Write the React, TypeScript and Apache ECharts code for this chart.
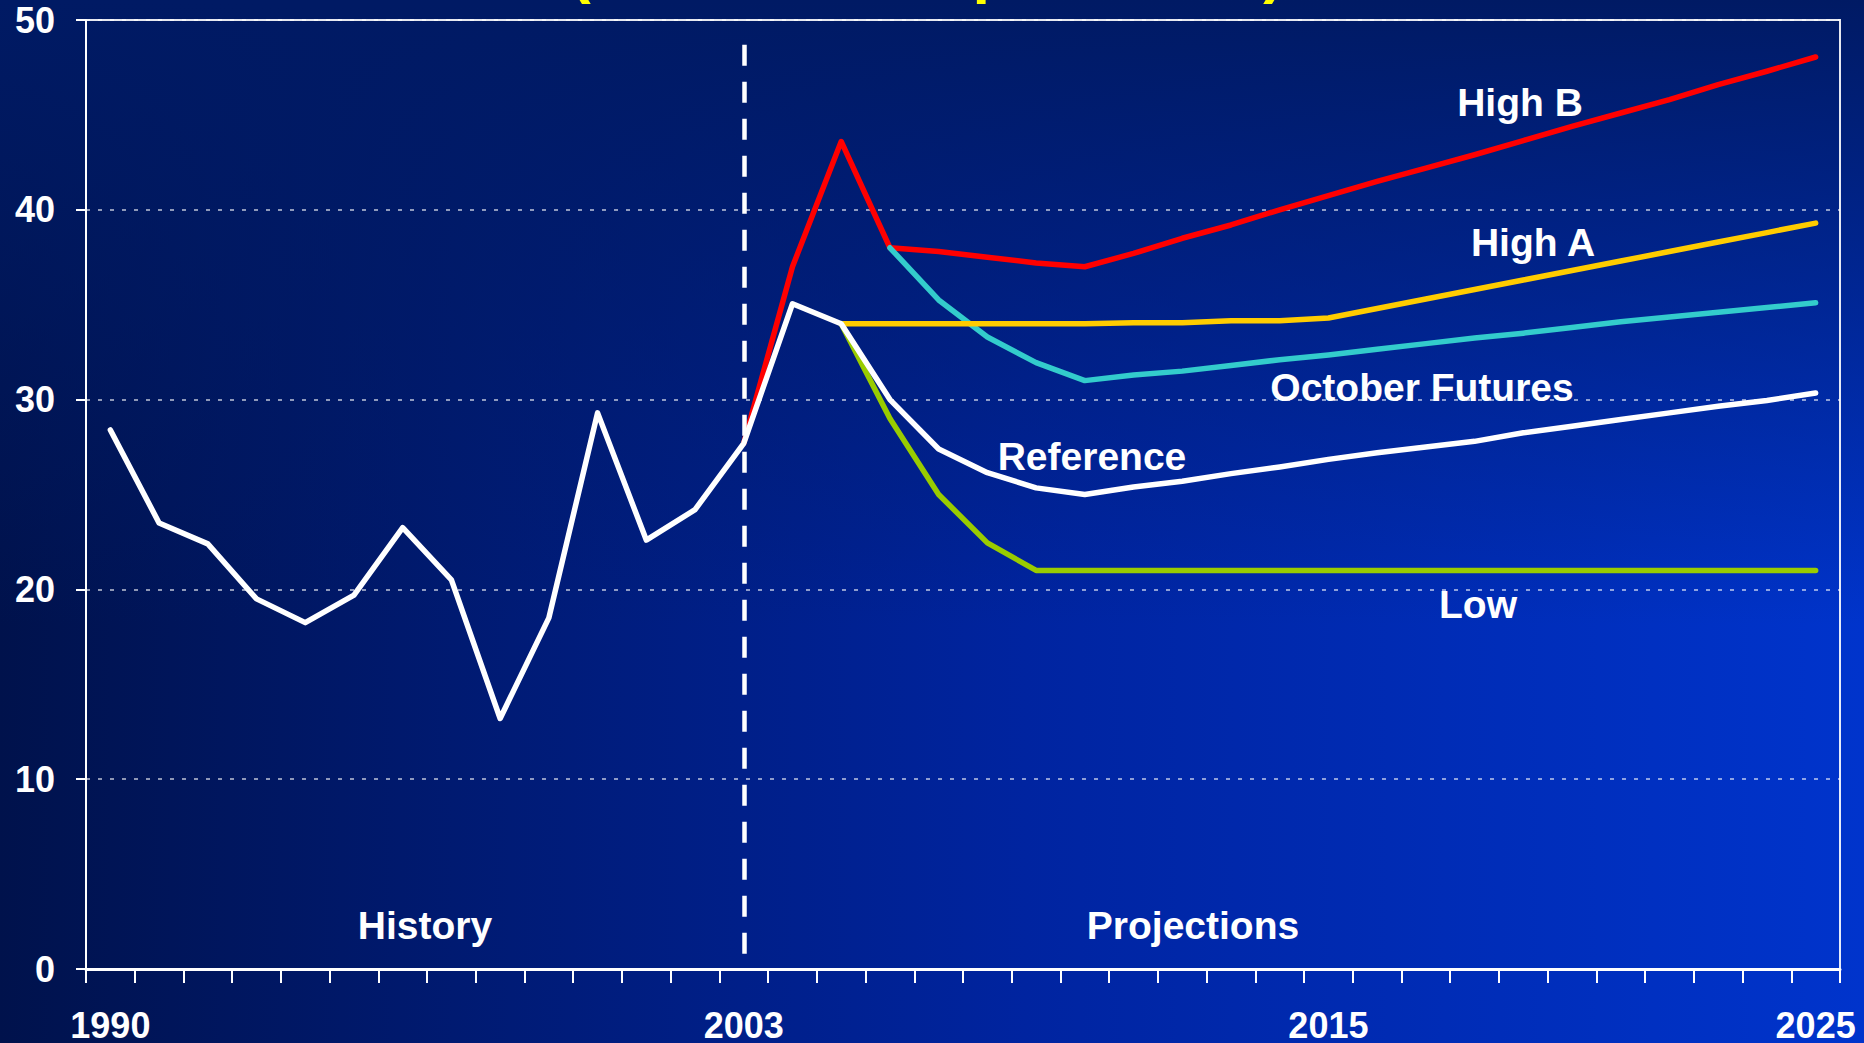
import React, { useEffect, useRef } from "react";
import * as echarts from "echarts";

const years = [
  "1990", "1991", "1992", "1993", "1994", "1995", "1996", "1997", "1998", "1999",
  "2000", "2001", "2002", "2003", "2004", "2005", "2006", "2007", "2008", "2009",
  "2010", "2011", "2012", "2013", "2014", "2015", "2016", "2017", "2018", "2019",
  "2020", "2021", "2022", "2023", "2024", "2025",
];
const shownYearLabels = ["1990", "2003", "2015", "2025"];
const yTicks = [0, 10, 20, 30, 40, 50];

// White line: history 1990-2003, then reference case 2004-2025
const history = [28.4, 23.5, 22.4, 19.5, 18.25, 19.7, 23.25, 20.5, 13.2, 18.5, 29.3, 22.6, 24.2, 27.7];
const reference = [35.05, 34.0, 30.0, 27.4, 26.15, 25.35, 25.0, 25.4, 25.7, 26.1, 26.45, 26.85, 27.2, 27.5, 27.8, 28.25, 28.6, 28.95, 29.3, 29.65, 29.95, 30.35];
// High B from 2003
const highBStart = "2003";
const highB = [27.7, 37.0, 43.6, 38.0, 37.8, 37.5, 37.2, 37.0, 37.7, 38.5, 39.2, 40.0, 40.75, 41.5, 42.2, 42.9, 43.65, 44.4, 45.1, 45.8, 46.6, 47.3, 48.05];
// October Futures from 2006
const octStart = "2006";
const octoberFutures = [38.0, 35.25, 33.3, 31.95, 31.0, 31.3, 31.5, 31.8, 32.1, 32.35, 32.65, 32.95, 33.25, 33.5, 33.8, 34.1, 34.35, 34.6, 34.85, 35.1];
// High A from 2005
const highAStart = "2005";
const highA = [34.0, 34.0, 34.0, 34.0, 34.0, 34.0, 34.05, 34.05, 34.15, 34.15, 34.3, 34.8, 35.3, 35.8, 36.3, 36.8, 37.3, 37.8, 38.3, 38.8, 39.3];
// Low from 2005
const lowStart = "2005";
const low = [34.0, 29.0, 25.0, 22.45, 21.0, 21.0, 21.0, 21.0, 21.0, 21.0, 21.0, 21.0, 21.0, 21.0, 21.0, 21.0, 21.0, 21.0, 21.0, 21.0, 21.0];

const dividerYear = "2003";
const dividerRange = [48.7, 0.3];

const pad = (start: string, vals: number[]) => {
  const idx = years.indexOf(start);
  const out: (number | null)[] = years.map(() => null);
  vals.forEach((v, i) => (out[idx + i] = v));
  return out;
};

const FONT = "'Liberation Sans', Arial, Helvetica, sans-serif";

export default function App() {
  const ref = useRef<HTMLDivElement>(null);
  useEffect(() => {
    if (!ref.current) return;
    const chart = echarts.init(ref.current, undefined, { renderer: "svg" });
    const lineBase = (color: string) => ({
      type: "line" as const,
      symbol: "none",
      silent: true,
      lineStyle: { color, width: 5.5, cap: "round", join: "round" },
    });
    const annot = (text: string, x: number, y: number) => ({
      type: "text",
      x,
      y,
      silent: true,
      style: {
        text,
        fill: "#ffffff",
        font: `bold 39px ${FONT}`,
        textAlign: "center",
        textVerticalAlign: "middle",
      },
    });
    chart.setOption({
      animation: false,
      backgroundColor: "transparent",
      grid: {
        left: 86,
        right: 24,
        top: 20,
        bottom: 74,
        show: true,
        borderColor: "rgba(255,255,255,0.9)",
        borderWidth: 2,
        backgroundColor: "transparent",
      },
      xAxis: {
        type: "category",
        data: years,
        boundaryGap: true,
        axisLine: { lineStyle: { color: "#ffffff", width: 3 } },
        axisTick: { show: true, interval: 0, length: 14, lineStyle: { color: "#ffffff", width: 2 } },
        axisLabel: {
          interval: (i: number, v: string) => shownYearLabels.includes(v),
          color: "#ffffff",
          fontSize: 36,
          lineHeight: 34,
          fontWeight: "bold",
          fontFamily: FONT,
          margin: 39,
        },
        splitLine: { show: false },
      },
      yAxis: {
        type: "value",
        min: yTicks[0],
        max: yTicks[yTicks.length - 1],
        interval: 10,
        axisLine: { show: true, lineStyle: { color: "#ffffff", width: 2 } },
        axisTick: { show: true, length: 10, lineStyle: { color: "#ffffff", width: 2 } },
        axisLabel: {
          color: "#ffffff",
          fontSize: 36,
          fontWeight: "bold",
          fontFamily: FONT,
          margin: 31,
        },
        splitLine: {
          show: true,
          lineStyle: { color: "rgba(255,255,255,0.75)", width: 1.5, type: [4, 8] },
        },
      },
      series: [
        { ...lineBase("#ff0000"), name: "High B", data: pad(highBStart, highB) },
        { ...lineBase("#33cccc"), name: "October Futures", data: pad(octStart, octoberFutures) },
        { ...lineBase("#ffcc00"), name: "High A", data: pad(highAStart, highA) },
        { ...lineBase("#99cc00"), name: "Low", data: pad(lowStart, low) },
        {
          ...lineBase("#ffffff"),
          name: "Reference",
          data: [...history, ...reference],
          markLine: {
            silent: true,
            symbol: ["none", "none"],
            label: { show: false },
            lineStyle: { color: "#ffffff", width: 4.5, type: [21, 16] },
            data: [[
              { coord: [dividerYear, dividerRange[0]] },
              { coord: [dividerYear, dividerRange[1]] },
            ]],
          },
        },
      ],
      graphic: [
        {
          type: "text",
          x: 927,
          y: -31,
          silent: true,
          style: {
            text: "(2003 dollars per barrel)",
            fill: "#ffff00",
            font: `bold 63px ${FONT}`,
            textAlign: "center",
            textVerticalAlign: "middle",
          },
        },
        annot("High B", 1520, 102),
        annot("High A", 1533, 242),
        annot("October Futures", 1422, 387),
        annot("Reference", 1092, 456),
        annot("Low", 1478, 604),
        annot("History", 425, 925),
        annot("Projections", 1193, 925),
      ],
    });
    return () => chart.dispose();
  }, []);
  return (
    <div
      style={{
        position: "fixed",
        left: 0,
        top: 0,
        width: 1864,
        height: 1043,
        background:
          "linear-gradient(to bottom, #001a64 0%, rgba(0,26,100,0) 60%), linear-gradient(to right, #00124c 0%, #0024a0 55%, #0034cc 100%)",
      }}
    >
      <div ref={ref} style={{ width: 1864, height: 1043 }} />
    </div>
  );
}
